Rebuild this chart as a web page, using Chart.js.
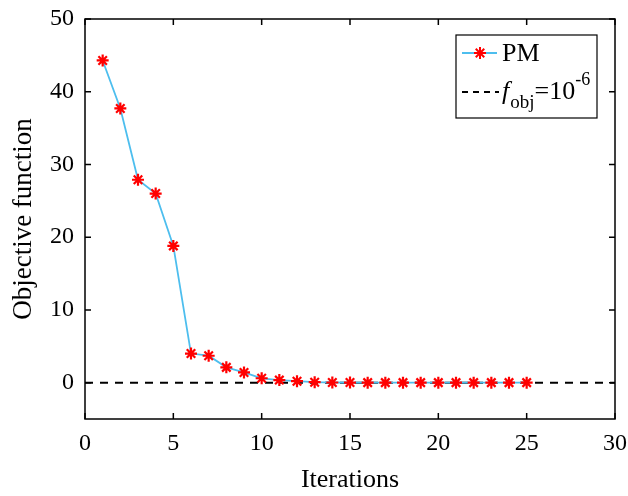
<!DOCTYPE html>
<html>
<head>
<meta charset="utf-8">
<script src="https://cdn.jsdelivr.net/npm/chart.js@4"></script>
<style>
  body { margin: 0; background: #fff; }
  #wrap { width: 628px; height: 496px; }
</style>
</head>
<body>
<div id="wrap"><canvas id="objChart" width="628" height="496"></canvas></div>
<script>
const iterations = [1, 2, 3, 4, 5, 6, 7, 8, 9, 10, 11, 12, 13, 14, 15, 16, 17, 18, 19, 20, 21, 22, 23, 24, 25];
const pmValues = [44.3, 37.7, 27.9, 26.0, 18.8, 4.0, 3.7, 2.1, 1.4, 0.6, 0.35, 0.2, 0.06, 0.02, 0.01, 0, 0, 0, 0, 0, 0, 0, 0, 0, 0];
const thresholdX = [0, 30];
const thresholdY = [0, 0];
const xTicks = [0, 5, 10, 15, 20, 25, 30];
const yTicks = [0, 10, 20, 30, 40, 50];

const serif = '"Liberation Serif", "Times New Roman", serif';

// MATLAB-like box with inward ticks, plus the legend
const boxPlugin = {
  id: 'boxPlugin',
  afterDraw(chart) {
    const { ctx, chartArea: a, scales } = chart;
    ctx.save();
    ctx.strokeStyle = '#000';
    ctx.lineWidth = 1.5;
    ctx.strokeRect(a.left, a.top, a.right - a.left, a.bottom - a.top);
    const tl = 6;
    ctx.beginPath();
    xTicks.forEach(v => {
      const px = scales.x.getPixelForValue(v);
      ctx.moveTo(px, a.bottom); ctx.lineTo(px, a.bottom - tl);
      ctx.moveTo(px, a.top); ctx.lineTo(px, a.top + tl);
    });
    yTicks.forEach(v => {
      const py = scales.y.getPixelForValue(v);
      ctx.moveTo(a.left, py); ctx.lineTo(a.left + tl, py);
      ctx.moveTo(a.right, py); ctx.lineTo(a.right - tl, py);
    });
    ctx.stroke();

    // legend
    const lx = 456, ly = 35, lw = 141, lh = 83;
    ctx.fillStyle = '#fff';
    ctx.fillRect(lx, ly, lw, lh);
    ctx.lineWidth = 1.2;
    ctx.strokeRect(lx, ly, lw, lh);

    // PM entry
    let y1 = ly + 18;
    ctx.strokeStyle = '#4DBEEE';
    ctx.lineWidth = 1.8;
    ctx.beginPath(); ctx.moveTo(lx + 6, y1); ctx.lineTo(lx + 41, y1); ctx.stroke();
    ctx.strokeStyle = '#ff0000';
    ctx.lineWidth = 2;
    Chart.helpers.drawPoint(ctx, { pointStyle: 'star', radius: 6, rotation: 0, borderWidth: 2 }, lx + 24, y1);
    ctx.fillStyle = '#000';
    ctx.textBaseline = 'middle';
    ctx.font = '26px ' + serif;
    ctx.fillText('PM', lx + 46, y1 + 1);

    // threshold entry
    let y2 = ly + 57;
    ctx.strokeStyle = '#000';
    ctx.lineWidth = 2;
    ctx.setLineDash([6, 5]);
    ctx.beginPath(); ctx.moveTo(lx + 6, y2); ctx.lineTo(lx + 43, y2); ctx.stroke();
    ctx.setLineDash([]);
    let tx = lx + 46;
    ctx.font = 'italic 26px ' + serif;
    ctx.fillText('f', tx, y2);
    tx += ctx.measureText('f').width + 1;
    ctx.font = '19px ' + serif;
    ctx.fillText('obj', tx, y2 + 11);
    tx += ctx.measureText('obj').width;
    ctx.font = '26px ' + serif;
    ctx.fillText('=10', tx, y2);
    tx += ctx.measureText('=10').width;
    ctx.font = '18px ' + serif;
    ctx.fillText('-6', tx, y2 - 12);
    ctx.restore();
  }
};

new Chart(document.getElementById('objChart'), {
  type: 'scatter',
  data: {
    datasets: [
      {
        label: 'PM',
        data: iterations.map((x, i) => ({ x: x, y: pmValues[i] })),
        showLine: true,
        borderColor: '#4DBEEE',
        borderWidth: 1.8,
        pointStyle: 'star',
        pointRadius: 6,
        pointBorderColor: '#ff0000',
        pointBackgroundColor: '#ff0000',
        pointBorderWidth: 2.2,
        order: 1
      },
      {
        label: 'threshold',
        data: thresholdX.map((x, i) => ({ x: x, y: thresholdY[i] })),
        showLine: true,
        borderColor: '#000',
        borderWidth: 2,
        borderDash: [8, 7],
        pointRadius: 0,
        order: 2
      }
    ]
  },
  options: {
    responsive: false,
    animation: false,
    layout: { padding: { top: 19, right: 13, left: 0, bottom: 0 } },
    plugins: { legend: { display: false }, tooltip: { enabled: false } },
    scales: {
      x: {
        type: 'linear',
        min: 0, max: 30,
        afterBuildTicks: s => { s.ticks = xTicks.map(v => ({ value: v })); },
        afterFit: s => { s.height = 77; s.paddingLeft = 0; s.paddingRight = 0; },
        grid: { display: false, drawTicks: false },
        border: { display: false },
        ticks: { color: '#000', font: { family: serif, size: 24 }, padding: 10 },
        title: { display: true, text: 'Iterations', color: '#000', font: { family: serif, size: 26 }, padding: { top: 4, bottom: 0 } }
      },
      y: {
        type: 'linear',
        min: -5, max: 50,
        afterBuildTicks: s => { s.ticks = yTicks.map(v => ({ value: v })); },
        afterFit: s => { s.width = 85; s.paddingTop = 0; s.paddingBottom = 0; },
        grid: { display: false, drawTicks: false },
        border: { display: false },
        ticks: { color: '#000', font: { family: serif, size: 24 }, padding: 11 },
        title: { display: true, text: 'Objective function', color: '#000', font: { family: serif, size: 27 }, padding: { top: 8, bottom: 4 } }
      }
    }
  },
  plugins: [boxPlugin]
});
</script>
</body>
</html>
